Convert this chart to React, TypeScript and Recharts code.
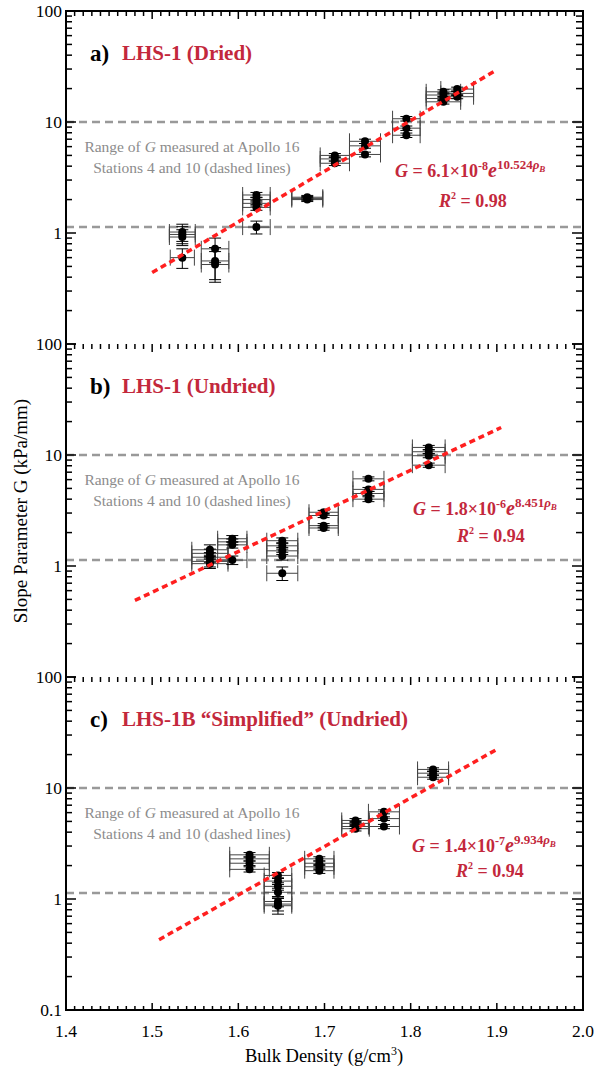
import { ErrorBar, ReferenceLine, Scatter, ScatterChart, XAxis, YAxis } from 'recharts';

// --- data ---------------------------------------------------------------------

const xMajorTicks = [1.4, 1.5, 1.6, 1.7, 1.8, 1.9, 2.0];
const yMajorTicks = [0.1, 1, 10, 100];
const apolloRange = [1.13, 10];

// a) LHS-1 (Dried)
const driedPoints = [
  { x: 1.535, y: 1.02, xe: 0.015, ye: 0.18 },
  { x: 1.535, y: 0.97, xe: 0.015, ye: 0.17 },
  { x: 1.535, y: 0.92, xe: 0.015, ye: 0.15 },
  { x: 1.535, y: 0.6, xe: 0.014, ye: 0.12 },
  { x: 1.573, y: 0.72, xe: 0.016, ye: 0.18 },
  { x: 1.573, y: 0.56, xe: 0.016, ye: 0.18 },
  { x: 1.573, y: 0.52, xe: 0.016, ye: 0.16 },
  { x: 1.621, y: 2.2, xe: 0.016, ye: 0.12 },
  { x: 1.621, y: 2.0, xe: 0.016, ye: 0.1 },
  { x: 1.621, y: 1.85, xe: 0.016, ye: 0.1 },
  { x: 1.621, y: 1.7, xe: 0.016, ye: 0.1 },
  { x: 1.621, y: 1.13, xe: 0.016, ye: 0.15 },
  { x: 1.68, y: 2.1, xe: 0.018, ye: 0.08 },
  { x: 1.68, y: 2.05, xe: 0.018, ye: 0.08 },
  { x: 1.68, y: 2.0, xe: 0.018, ye: 0.08 },
  { x: 1.712, y: 5.0, xe: 0.017, ye: 0.2 },
  { x: 1.712, y: 4.65, xe: 0.017, ye: 0.2 },
  { x: 1.712, y: 4.25, xe: 0.017, ye: 0.2 },
  { x: 1.747, y: 6.7, xe: 0.018, ye: 0.3 },
  { x: 1.747, y: 6.1, xe: 0.018, ye: 0.3 },
  { x: 1.747, y: 5.1, xe: 0.018, ye: 0.25 },
  { x: 1.795, y: 10.7, xe: 0.016, ye: 0.5 },
  { x: 1.795, y: 8.8, xe: 0.016, ye: 0.4 },
  { x: 1.795, y: 7.6, xe: 0.016, ye: 0.35 },
  { x: 1.838, y: 18.7, xe: 0.02, ye: 0.8 },
  { x: 1.838, y: 17.5, xe: 0.02, ye: 0.8 },
  { x: 1.838, y: 16.3, xe: 0.02, ye: 0.7 },
  { x: 1.838, y: 15.2, xe: 0.02, ye: 0.7 },
  { x: 1.854, y: 19.8, xe: 0.019, ye: 0.8 },
  { x: 1.854, y: 18.1, xe: 0.019, ye: 0.8 },
  { x: 1.854, y: 16.9, xe: 0.019, ye: 0.7 },
];
const driedFit = [
  { x: 1.5, y: 0.44 },
  { x: 1.9, y: 29.5 },
];

// b) LHS-1 (Undried)
const undriedPoints = [
  { x: 1.567, y: 1.4, xe: 0.021, ye: 0.15 },
  { x: 1.567, y: 1.3, xe: 0.021, ye: 0.12 },
  { x: 1.567, y: 1.2, xe: 0.021, ye: 0.12 },
  { x: 1.567, y: 1.1, xe: 0.021, ye: 0.12 },
  { x: 1.567, y: 1.05, xe: 0.021, ye: 0.1 },
  { x: 1.593, y: 1.76, xe: 0.017, ye: 0.12 },
  { x: 1.593, y: 1.65, xe: 0.017, ye: 0.1 },
  { x: 1.593, y: 1.55, xe: 0.017, ye: 0.1 },
  { x: 1.593, y: 1.13, xe: 0.017, ye: 0.1 },
  { x: 1.651, y: 1.69, xe: 0.018, ye: 0.1 },
  { x: 1.651, y: 1.52, xe: 0.018, ye: 0.1 },
  { x: 1.651, y: 1.37, xe: 0.018, ye: 0.1 },
  { x: 1.651, y: 1.23, xe: 0.018, ye: 0.1 },
  { x: 1.651, y: 0.86, xe: 0.018, ye: 0.12 },
  { x: 1.699, y: 3.05, xe: 0.017, ye: 0.12 },
  { x: 1.699, y: 2.85, xe: 0.017, ye: 0.12 },
  { x: 1.699, y: 2.31, xe: 0.017, ye: 0.1 },
  { x: 1.699, y: 2.2, xe: 0.017, ye: 0.1 },
  { x: 1.751, y: 6.1, xe: 0.018, ye: 0.25 },
  { x: 1.751, y: 4.9, xe: 0.018, ye: 0.2 },
  { x: 1.751, y: 4.5, xe: 0.018, ye: 0.2 },
  { x: 1.751, y: 4.0, xe: 0.018, ye: 0.2 },
  { x: 1.821, y: 11.7, xe: 0.019, ye: 0.5 },
  { x: 1.821, y: 10.7, xe: 0.019, ye: 0.4 },
  { x: 1.821, y: 9.85, xe: 0.019, ye: 0.4 },
  { x: 1.821, y: 8.1, xe: 0.019, ye: 0.35 },
];
const undriedFit = [
  { x: 1.48, y: 0.49 },
  { x: 1.905, y: 17.7 },
];

// c) LHS-1B "Simplified" (Undried)
const simplifiedPoints = [
  { x: 1.613, y: 2.5, xe: 0.023, ye: 0.12 },
  { x: 1.613, y: 2.3, xe: 0.023, ye: 0.1 },
  { x: 1.613, y: 2.1, xe: 0.023, ye: 0.1 },
  { x: 1.613, y: 1.85, xe: 0.023, ye: 0.1 },
  { x: 1.646, y: 1.63, xe: 0.016, ye: 0.1 },
  { x: 1.646, y: 1.45, xe: 0.016, ye: 0.1 },
  { x: 1.646, y: 1.3, xe: 0.016, ye: 0.1 },
  { x: 1.646, y: 1.15, xe: 0.016, ye: 0.1 },
  { x: 1.646, y: 0.95, xe: 0.016, ye: 0.1 },
  { x: 1.646, y: 0.9, xe: 0.016, ye: 0.12 },
  { x: 1.646, y: 0.87, xe: 0.016, ye: 0.14 },
  { x: 1.694, y: 2.3, xe: 0.017, ye: 0.1 },
  { x: 1.694, y: 2.1, xe: 0.017, ye: 0.1 },
  { x: 1.694, y: 1.95, xe: 0.017, ye: 0.1 },
  { x: 1.694, y: 1.8, xe: 0.017, ye: 0.1 },
  { x: 1.736, y: 5.1, xe: 0.016, ye: 0.2 },
  { x: 1.736, y: 4.8, xe: 0.016, ye: 0.2 },
  { x: 1.736, y: 4.5, xe: 0.016, ye: 0.2 },
  { x: 1.736, y: 4.3, xe: 0.016, ye: 0.2 },
  { x: 1.769, y: 6.1, xe: 0.018, ye: 0.25 },
  { x: 1.769, y: 5.3, xe: 0.018, ye: 0.2 },
  { x: 1.769, y: 4.5, xe: 0.018, ye: 0.2 },
  { x: 1.826, y: 14.7, xe: 0.018, ye: 0.5 },
  { x: 1.826, y: 13.6, xe: 0.018, ye: 0.5 },
  { x: 1.826, y: 12.5, xe: 0.018, ye: 0.5 },
];
const simplifiedFit = [
  { x: 1.508, y: 0.43 },
  { x: 1.9, y: 22.3 },
];

// minor ticks: hundredths on x, 2..9 per decade on y
const xTicks = xMajorTicks.flatMap((t, i) =>
  i === xMajorTicks.length - 1 ? [t] : Array.from({ length: 10 }, (_, k) => +(t + k * 0.01).toFixed(2)),
);
const yTicks = yMajorTicks.flatMap((t, i) =>
  i === yMajorTicks.length - 1 ? [t] : Array.from({ length: 9 }, (_, k) => +(t * (k + 1)).toPrecision(3)),
);

// --- styling ------------------------------------------------------------------

const FONT = "'Liberation Serif', 'DejaVu Serif', serif";
const CRIMSON = '#c3283c';
const GREY_TEXT = '#8c8c8c';
const W = 594;
const PLOT_LEFT = 66;
const PLOT_RIGHT_GAP = 11;
const PLOT_H = 333;

const isMajorX = (v: number) => Math.abs(v * 10 - Math.round(v * 10)) < 1e-6;
const isMajorY = (v: number) => Math.abs(Math.log10(v) - Math.round(Math.log10(v))) < 1e-6;
const fmtY = (v: number) => (v < 1 ? v.toFixed(1) : String(Math.round(v)));

function BottomTick({ x, y, payload, showLabel }: any) {
  const v = payload.value as number;
  const major = isMajorX(v);
  return (
    <g>
      <line x1={x} x2={x} y1={y} y2={y - (major ? 7 : 4)} stroke="#000" strokeWidth={1.5} />
      {showLabel && major && (
        <text x={x} y={y + 27} textAnchor="middle" fontFamily={FONT} fontSize={17.5} fill="#000">
          {v.toFixed(1)}
        </text>
      )}
    </g>
  );
}

// top and right axes get a 1px band, so their tick line starts 1px outside the frame
function TopTick({ x, y, payload }: any) {
  const major = isMajorX(payload.value);
  return <line x1={x} x2={x} y1={y} y2={y + (major ? 8 : 5)} stroke="#000" strokeWidth={1.5} />;
}

function LeftTick({ x, y, payload, showMin }: any) {
  const v = payload.value as number;
  const major = isMajorY(v);
  const label = major && (showMin || v > 0.1);
  return (
    <g>
      <line x1={x} x2={x + (major ? 10 : 6)} y1={y} y2={y} stroke="#000" strokeWidth={1.5} />
      {label && (
        <text x={x - 4} y={y + 6} textAnchor="end" fontFamily={FONT} fontSize={17.5} fill="#000">
          {fmtY(v)}
        </text>
      )}
    </g>
  );
}

function RightTick({ x, y, payload }: any) {
  const major = isMajorY(payload.value);
  return <line x1={x} x2={x - (major ? 11 : 7)} y1={y} y2={y} stroke="#000" strokeWidth={1.5} />;
}

const Dot = (p: any) => <circle cx={p.cx} cy={p.cy} r={4} fill="#000" />;
const NoDot = () => <g />;

const axisLine = { stroke: '#000', strokeWidth: 2 };

interface PanelProps {
  top: number;
  marginTop: number;
  marginBottom: number;
  bottomAxisHeight: number;
  showXLabels: boolean;
  points: { x: number; y: number; xe: number; ye: number }[];
  fit: { x: number; y: number }[];
}

function Panel({ top, marginTop, marginBottom, bottomAxisHeight, showXLabels, points, fit }: PanelProps) {
  // the top axis takes 1px and the right axis 1px (a zero-sized axis draws no ticks)
  const height = marginTop + 1 + PLOT_H + bottomAxisHeight + marginBottom;
  return (
    <div style={{ position: 'absolute', left: 0, top }}>
      <ScatterChart
        width={W}
        height={height}
        margin={{ top: marginTop, right: PLOT_RIGHT_GAP - 1, bottom: marginBottom, left: 0 }}
      >
        <XAxis
          xAxisId="b"
          type="number"
          dataKey="x"
          domain={[1.4, 2.0]}
          allowDataOverflow
          ticks={xTicks}
          interval={0}
          tickSize={0}
          tickMargin={0}
          tickLine={false}
          axisLine={axisLine}
          height={bottomAxisHeight}
          tick={(p: any) => <BottomTick {...p} showLabel={showXLabels} />}
        />
        <XAxis
          xAxisId="t"
          orientation="top"
          type="number"
          dataKey="x"
          domain={[1.4, 2.0]}
          allowDataOverflow
          ticks={xTicks}
          interval={0}
          tickSize={0}
          tickMargin={0}
          tickLine={false}
          axisLine={false}
          height={1}
          tick={(p: any) => <TopTick {...p} />}
        />
        <YAxis
          yAxisId="l"
          type="number"
          dataKey="y"
          scale="log"
          domain={[0.1, 100]}
          allowDataOverflow
          ticks={yTicks}
          interval={0}
          tickSize={0}
          tickMargin={0}
          tickLine={false}
          axisLine={axisLine}
          width={PLOT_LEFT}
          tick={(p: any) => <LeftTick {...p} showMin={showXLabels} />}
        />
        <YAxis
          yAxisId="r"
          orientation="right"
          type="number"
          dataKey="y"
          scale="log"
          domain={[0.1, 100]}
          allowDataOverflow
          ticks={yTicks}
          interval={0}
          tickSize={0}
          tickMargin={0}
          tickLine={false}
          axisLine={false}
          width={1}
          tick={(p: any) => <RightTick {...p} />}
        />
        {apolloRange.map((g) => (
          <ReferenceLine
            key={g}
            xAxisId="b"
            yAxisId="l"
            y={g}
            stroke="#999"
            strokeWidth={2.5}
            strokeDasharray="8 5"
          />
        ))}
        <Scatter xAxisId="b" yAxisId="l" data={points} shape={Dot} isAnimationActive={false}>
          <ErrorBar direction="x" dataKey="xe" width={8} stroke="#444" strokeWidth={1} isAnimationActive={false} />
          <ErrorBar direction="y" dataKey="ye" width={6} stroke="#000" strokeWidth={1} isAnimationActive={false} />
        </Scatter>
        <Scatter
          xAxisId="t"
          yAxisId="r"
          data={fit}
          shape={NoDot}
          line={{ stroke: '#ff1f1f', strokeWidth: 3.5, strokeDasharray: '6 4' }}
          isAnimationActive={false}
        />
      </ScatterChart>
    </div>
  );
}

interface Note {
  top: number;
  tag: string;
  title: string;
  coef: string;
  exp: string;
  slope: string;
  r2: string;
  eqX: number;
  eqY: number;
  r2X: number;
  r2Y: number;
}

const notes: Note[] = [
  { top: 11, tag: 'a)', title: 'LHS-1 (Dried)', coef: '6.1', exp: '-8', slope: '10.524', r2: '0.98', eqX: 395, eqY: 177, r2X: 439, r2Y: 207 },
  { top: 344, tag: 'b)', title: 'LHS-1 (Undried)', coef: '1.8', exp: '-6', slope: '8.451', r2: '0.94', eqX: 413, eqY: 515, r2X: 457, r2Y: 542 },
  { top: 677, tag: 'c)', title: 'LHS-1B \u201cSimplified\u201d (Undried)', coef: '1.4', exp: '-7', slope: '9.934', r2: '0.94', eqX: 412, eqY: 852, r2X: 456, r2Y: 877 },
];

function Annotations() {
  return (
    <svg width={W} height={1069} style={{ position: 'absolute', left: 0, top: 0, pointerEvents: 'none' }}>
      {notes.map((n) => (
        <g key={n.tag} fontFamily={FONT}>
          <text x={90} y={n.top + 50} fontSize={23} fontWeight="bold" fill="#000">
            {n.tag}
          </text>
          <text x={122} y={n.top + 49} fontSize={21} fontWeight="bold" fill={CRIMSON}>
            {n.title}
          </text>
          <text x={192} y={n.top + 141} fontSize={15.5} fill={GREY_TEXT} textAnchor="middle">
            Range of <tspan fontStyle="italic">G</tspan> measured at Apollo 16
          </text>
          <text x={192} y={n.top + 162} fontSize={15.5} fill={GREY_TEXT} textAnchor="middle">
            Stations 4 and 10 (dashed lines)
          </text>
          <text x={n.eqX} y={n.eqY} fontSize={18} fontWeight="bold" fill={CRIMSON}>
            <tspan fontStyle="italic">G</tspan>
            <tspan>{` = ${n.coef}\u00d710`}</tspan>
            <tspan dy={-7} fontSize={12}>
              {n.exp}
            </tspan>
            <tspan dy={7} fontStyle="italic" fontSize={20}>
              e
            </tspan>
            <tspan dy={-8} fontSize={13}>
              {n.slope}
            </tspan>
            <tspan fontStyle="italic" fontSize={13}>
              {'\u03c1'}
            </tspan>
            <tspan dy={3} fontStyle="italic" fontSize={9}>
              B
            </tspan>
          </text>
          <text x={n.r2X} y={n.r2Y} fontSize={18} fontWeight="bold" fill={CRIMSON}>
            <tspan fontStyle="italic">R</tspan>
            <tspan dy={-8} fontSize={10}>
              2
            </tspan>
            <tspan dy={8}>{` = ${n.r2}`}</tspan>
          </text>
        </g>
      ))}
      <text
        x={0}
        y={0}
        transform="translate(27, 511) rotate(-90)"
        textAnchor="middle"
        fontFamily={FONT}
        fontSize={19}
        fill="#000"
      >
        Slope Parameter G (kPa/mm)
      </text>
      <text x={324} y={1062} textAnchor="middle" fontFamily={FONT} fontSize={18.5} fill="#000">
        Bulk Density (g/cm<tspan dy={-7} fontSize={12}>3</tspan>
        <tspan dy={7}>)</tspan>
      </text>
    </svg>
  );
}

export default function App() {
  return (
    <div style={{ position: 'absolute', left: 0, top: 0, width: W, height: 1069, background: '#fff' }}>
      {/* plot frames: a 11–344, b 344–677, c 677–1010; the svgs overlap so the boundary labels are not clipped */}
      <Panel top={0} marginTop={10} marginBottom={4} bottomAxisHeight={0} showXLabels={false} points={driedPoints} fit={driedFit} />
      <Panel top={326} marginTop={17} marginBottom={4} bottomAxisHeight={0} showXLabels={false} points={undriedPoints} fit={undriedFit} />
      <Panel top={659} marginTop={17} marginBottom={0} bottomAxisHeight={59} showXLabels points={simplifiedPoints} fit={simplifiedFit} />
      {/* top and right frame lines */}
      <svg width={W} height={1069} style={{ position: 'absolute', left: 0, top: 0, pointerEvents: 'none' }}>
        <rect x={PLOT_LEFT} y={11} width={W - PLOT_RIGHT_GAP - PLOT_LEFT} height={999} fill="none" stroke="#000" strokeWidth={2} />
      </svg>
      <Annotations />
    </div>
  );
}
